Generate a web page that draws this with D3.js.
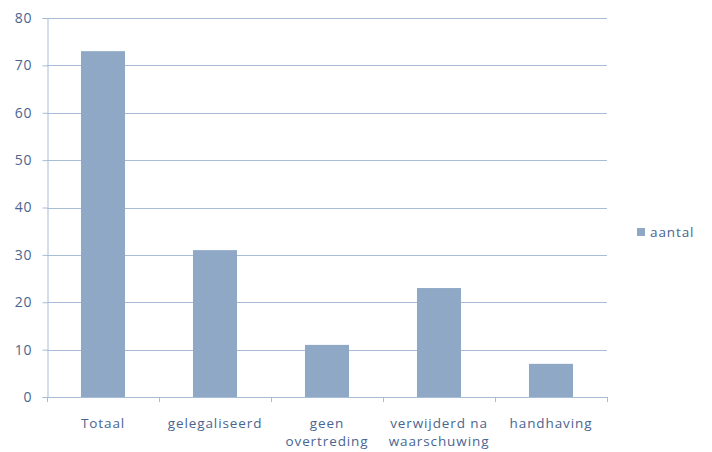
<!DOCTYPE html>
<html>
<head>
<meta charset="utf-8">
<script src="https://cdn.jsdelivr.net/npm/d3@7"></script>
<style>
  body { margin: 0; background: #fff; }
  text { font-family: "Open Sans", "DejaVu Sans", sans-serif; fill: #4a6590; letter-spacing: 0.9px; }
</style>
</head>
<body>
<svg id="chart" width="712" height="452"></svg>
<script>
// chart data
var categories = [['Totaal'], ['gelegaliseerd'], ['geen', 'overtreding'], ['verwijderd na', 'waarschuwing'], ['handhaving']];
var values = [73, 31, 11, 23, 7];
var yTicks = [0, 10, 20, 30, 40, 50, 60, 70, 80];
var seriesName = 'aantal';

var svg = d3.select('#chart'),
    plotLeft = 47, plotRight = 607, plotTop = 18, plotBottom = 397,
    lineColor = '#a9bcd6',
    barColor = '#8ea8c6';

var x = d3.scaleBand()
    .domain(d3.range(values.length))
    .range([plotLeft, plotRight])
    .paddingInner(0.607)
    .paddingOuter(0.3035);

var y = d3.scaleLinear().domain([0, 80]).range([plotBottom, plotTop]);

// gridlines
svg.append('g').selectAll('line')
    .data(yTicks.filter(function (d) { return d > 0; }))
    .enter().append('line')
    .attr('x1', plotLeft).attr('x2', plotRight)
    .attr('y1', function (d) { return Math.round(y(d)) + 0.5; })
    .attr('y2', function (d) { return Math.round(y(d)) + 0.5; })
    .attr('stroke', lineColor).attr('stroke-width', 1);

// bars
svg.append('g').selectAll('rect')
    .data(values)
    .enter().append('rect')
    .attr('x', function (d, i) { return x(i); })
    .attr('width', x.bandwidth())
    .attr('y', function (d) { return y(d); })
    .attr('height', function (d) { return y(0) - y(d); })
    .attr('fill', barColor);

// y axis
var yAxis = svg.append('g')
    .attr('transform', 'translate(' + (plotLeft + 0.5) + ',0)')
    .call(d3.axisLeft(y).tickValues(yTicks).tickSize(5).tickPadding(10));
yAxis.select('.domain').attr('stroke', lineColor);
yAxis.selectAll('.tick line').attr('stroke', lineColor);
yAxis.selectAll('.tick text')
    .attr('font-size', 14)
    .attr('font-family', '"Open Sans", "DejaVu Sans", sans-serif')
    .attr('fill', '#4a6590');

// x axis baseline + ticks at band edges
var step = x.step();
var edges = d3.range(values.length + 1).map(function (i) { return plotLeft + i * step; });
svg.append('line')
    .attr('x1', plotLeft).attr('x2', plotRight)
    .attr('y1', plotBottom + 0.5).attr('y2', plotBottom + 0.5)
    .attr('stroke', lineColor);
svg.append('g').selectAll('line')
    .data(edges)
    .enter().append('line')
    .attr('x1', function (d) { return Math.round(d) + 0.5; })
    .attr('x2', function (d) { return Math.round(d) + 0.5; })
    .attr('y1', plotBottom).attr('y2', plotBottom + 5)
    .attr('stroke', lineColor);

// category labels
var labels = svg.append('g').selectAll('text')
    .data(categories)
    .enter().append('text')
    .attr('x', function (d, i) { return x(i) + x.bandwidth() / 2; })
    .attr('y', 428)
    .attr('text-anchor', 'middle')
    .attr('font-size', 13.5);
labels.selectAll('tspan')
    .data(function (d) { return d; })
    .enter().append('tspan')
    .attr('x', function () { return d3.select(this.parentNode).attr('x'); })
    .attr('dy', function (d, i) { return i === 0 ? 0 : 18; })
    .text(function (d) { return d; });

// legend
svg.append('rect')
    .attr('x', 637).attr('y', 228).attr('width', 8).attr('height', 8)
    .attr('fill', barColor);
svg.append('text')
    .attr('x', 650).attr('y', 237)
    .attr('font-size', 13.5)
    .text(seriesName);
</script>
</body>
</html>
